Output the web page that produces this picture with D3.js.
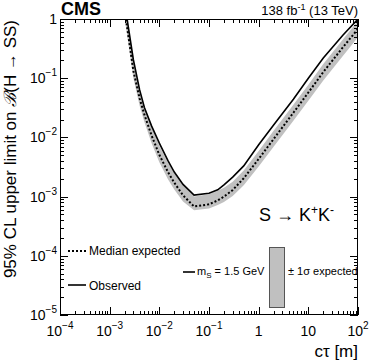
<!DOCTYPE html>
<html><head><meta charset="utf-8">
<script src="https://cdn.jsdelivr.net/npm/d3@7"></script>
<style>body{margin:0;background:#fff}svg{display:block}text{font-family:"Liberation Sans",Arial,Helvetica,sans-serif;fill:#000}</style>
</head><body><svg id="c" width="374" height="363"></svg>
<script>
const ctValues   = [0.0015,0.002,0.003,0.004,0.005,0.007,0.01,0.015,0.02,0.03,0.05,0.1,0.15,0.2,0.3,0.5,1,2,5,10,20,50,100];
const observed   = [12,1.86,0.205,0.064,0.0319,0.0155,0.0080,0.0040,0.0026,0.00161,0.00106,0.00114,0.0013,0.00158,0.00213,0.0033,0.00753,0.0162,0.044,0.1,0.22,0.537,1.0];
const expected   = [10,1.42,0.133,0.046,0.0242,0.0107,0.00508,0.00257,0.00172,0.00105,0.00068,0.00074,0.000865,0.001,0.00129,0.00204,0.00433,0.0094,0.0261,0.0573,0.127,0.335,0.68];
const expUp      = [14.1,2.0,0.188,0.0646,0.0339,0.0151,0.00724,0.00372,0.00251,0.00155,0.001,0.0011,0.00126,0.00141,0.00178,0.00275,0.00589,0.0129,0.0355,0.0776,0.174,0.457,0.933];
const expDown    = [7.6,1.07,0.101,0.0347,0.0182,0.00794,0.0038,0.00195,0.00132,0.00083,0.00059,0.00063,0.00072,0.00081,0.00102,0.00155,0.00324,0.00692,0.0191,0.0417,0.0912,0.24,0.49];
const xTickVals  = [1e-4,1e-3,1e-2,1e-1,1,10,100];
const xTickBase  = ["10","10","10","10","1","10","10"];
const xTickExp   = ["−4","−3","−2","−1","","","2"];
const yTickVals  = [1,1e-1,1e-2,1e-3,1e-4,1e-5];
const yTickBase  = ["1","10","10","10","10","10"];
const yTickExp   = ["","−1","−2","−3","−4","−5"];

const svg = d3.select("#c");
const L=60,R=358,T=19,B=315;
const x = d3.scaleLog().domain([1e-4,100]).range([L,R]);
const y = d3.scaleLog().domain([1e-5,1]).range([B,T]);

svg.append("defs").append("clipPath").attr("id","clip").append("rect").attr("x",L).attr("y",T).attr("width",R-L).attr("height",B-T);
const g = svg.append("g").attr("clip-path","url(#clip)");
const idx = d3.range(ctValues.length);
g.append("path").datum(idx)
  .attr("d", d3.area().x(i=>x(ctValues[i])).y0(i=>y(expDown[i])).y1(i=>y(expUp[i])))
  .attr("fill","#c0c0c0");
g.append("path").datum(idx)
  .attr("d", d3.line().x(i=>x(ctValues[i])).y(i=>y(expected[i])))
  .attr("fill","none").attr("stroke","#000").attr("stroke-width",2).attr("stroke-dasharray","2,2");
g.append("path").datum(idx)
  .attr("d", d3.line().x(i=>x(ctValues[i])).y(i=>y(observed[i])))
  .attr("fill","none").attr("stroke","#000").attr("stroke-width",1.6);

// ticks
const isMajor = v => Math.abs(Math.log10(v)-Math.round(Math.log10(v)))<1e-9;
const xt = x.ticks(), yt = y.ticks();
const tk = svg.append("g").attr("stroke","#000").attr("stroke-width",1);
xt.forEach(v=>{const len=isMajor(v)?8:4, px=Math.round(x(v))+0.5;
  tk.append("line").attr("x1",px).attr("x2",px).attr("y1",B).attr("y2",B-len);
  tk.append("line").attr("x1",px).attr("x2",px).attr("y1",T).attr("y2",T+len);});
yt.forEach(v=>{const len=isMajor(v)?8:4, py=Math.round(y(v))+0.5;
  tk.append("line").attr("x1",L).attr("x2",L+len).attr("y1",py).attr("y2",py);
  tk.append("line").attr("x1",R).attr("x2",R-len).attr("y1",py).attr("y2",py);});
svg.append("rect").attr("x",L+0.5).attr("y",T+0.5).attr("width",R-L-1).attr("height",B-T-1)
  .attr("fill","none").attr("stroke","#000").attr("stroke-width",1);

// tick labels
xTickVals.forEach((v,i)=>{
  const t = svg.append("text").attr("x",x(v)).attr("y",336).attr("text-anchor","middle").attr("font-size",14);
  t.append("tspan").text(xTickBase[i]);
  if (xTickExp[i]) t.append("tspan").attr("dy",-7).attr("font-size",10).text(xTickExp[i]);
});
yTickVals.forEach((v,i)=>{
  const t = svg.append("text").attr("x",57).attr("y",y(v)+5).attr("text-anchor","end").attr("font-size",14);
  t.append("tspan").text(yTickBase[i]);
  if (yTickExp[i]) t.append("tspan").attr("dy",-7).attr("font-size",10).text(yTickExp[i]);
});

// titles
svg.append("text").attr("x",R).attr("y",357).attr("text-anchor","end").attr("font-size",17).text("cτ [m]");
svg.append("text").attr("transform","translate(16,20) rotate(-90)").attr("text-anchor","end").attr("font-size",17)
  .html('95% CL upper limit on <tspan font-family="DejaVu Serif" font-style="italic">ℬ</tspan>(H → SS)');
svg.append("text").attr("x",61).attr("y",15).attr("font-size",18).attr("font-weight","bold").text("CMS");
const lumi = svg.append("text").attr("x",R).attr("y",15).attr("text-anchor","end").attr("font-size",13);
lumi.append("tspan").text("138 fb");
lumi.append("tspan").attr("dy",-5).attr("font-size",9).text("-1");
lumi.append("tspan").attr("dy",5).text(" (13 TeV)");

const sk = svg.append("text").attr("x",259).attr("y",221).attr("font-size",18);
sk.append("tspan").text("S → K");
sk.append("tspan").attr("dy",-7).attr("font-size",12).text("+");
sk.append("tspan").attr("dy",7).text("K");
sk.append("tspan").attr("dy",-7).attr("font-size",12).text("-");

// legend
svg.append("line").attr("x1",68).attr("x2",86).attr("y1",251).attr("y2",251).attr("stroke","#000").attr("stroke-width",2).attr("stroke-dasharray","2,2");
svg.append("text").attr("x",89).attr("y",255).attr("font-size",12).text("Median expected");
svg.append("line").attr("x1",68).attr("x2",86).attr("y1",285).attr("y2",285).attr("stroke","#000").attr("stroke-width",1.6);
svg.append("text").attr("x",89).attr("y",290).attr("font-size",12).text("Observed");
svg.append("line").attr("x1",183).attr("x2",195).attr("y1",272).attr("y2",272).attr("stroke","#000").attr("stroke-width",1.6);
const ms = svg.append("text").attr("x",197).attr("y",275).attr("font-size",11);
ms.append("tspan").text("m");
ms.append("tspan").attr("dy",3).attr("font-size",8).text("S");
ms.append("tspan").attr("dy",-3).text(" = 1.5 GeV");
svg.append("rect").attr("x",269.5).attr("y",247.5).attr("width",15).attr("height",60).attr("fill","#c0c0c0").attr("stroke","#555").attr("stroke-width",1);
svg.append("text").attr("x",288).attr("y",275).attr("font-size",11).text("± 1σ expected");
</script></body></html>
